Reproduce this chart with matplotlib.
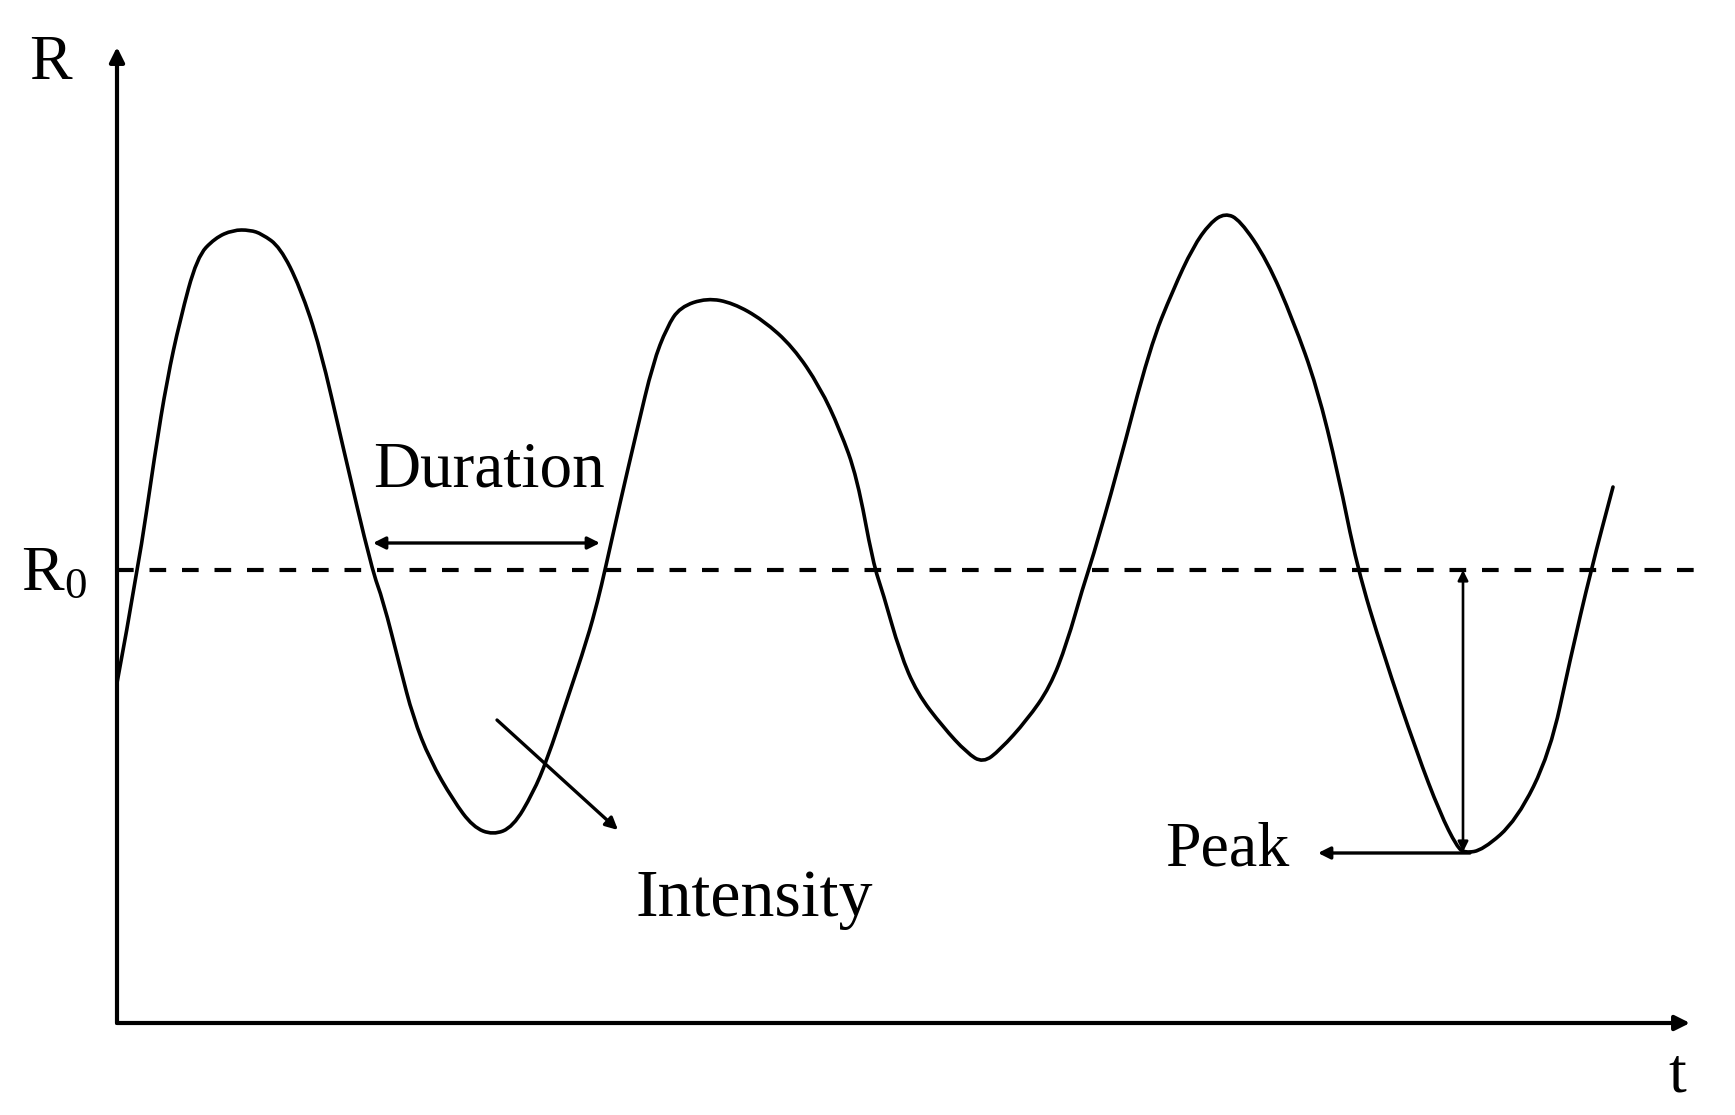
import matplotlib
matplotlib.use('Agg')
import matplotlib.pyplot as plt
from matplotlib.path import Path
from matplotlib.patches import PathPatch

plt.rcParams['font.family'] = ['Liberation Serif', 'DejaVu Serif']
plt.rcParams['mathtext.fontset'] = 'custom'
plt.rcParams['mathtext.rm'] = 'Liberation Serif'
plt.rcParams['mathtext.it'] = 'Liberation Serif'

# schematic signal (arbitrary units)
t = [0.0, 2.1, 3.8, 5.0, 6.3, 8.0, 9.8, 11.6, 13.3, 14.5, 16.3, 18.3, 20.3, 22.6,
     25.5, 26.6, 28.3, 29.6, 31.3, 33.6, 35.6, 37.6, 39.6, 41.6, 43.0, 45.0, 47.0,
     48.1, 48.8, 50.3, 52.0, 53.6, 55.0, 56.3, 59.0, 61.6, 64.6, 67.6, 70.3, 72.3,
     74.0, 75.6, 76.6, 78.3, 80.0, 82.6, 85.0, 86.6, 88.3, 91.0, 93.3, 95.0, 96.6,
     97.5, 100.0, 103.3, 105.6, 107.6, 109.3, 110.8, 112.3, 115.0, 117.6, 120.0,
     122.1, 124.0, 126.6, 130.0, 132.3, 134.0, 134.8, 136.6, 140.0, 143.3, 145.3,
     147.4, 149.6]
R = [34.0, 45.3, 57.0, 64.3, 70.3, 76.6, 78.5, 79.3, 79.3, 78.9, 77.6, 73.6, 67.6, 57.6,
     45.3, 42.3, 35.6, 30.6, 26.3, 22.3, 19.6, 18.8, 19.6, 23.0, 26.3, 32.3, 38.3,
     42.3, 45.3, 52.0, 59.3, 66.0, 69.6, 71.6, 72.5, 72.0, 70.3, 67.6, 63.6, 59.3,
     54.6, 46.0, 43.0, 37.0, 33.0, 29.6, 27.0, 26.0, 27.3, 30.3, 33.6, 38.0, 43.6,
     46.3, 55.0, 67.6, 73.3, 77.6, 80.0, 81.0, 80.3, 76.3, 70.3, 63.6,
     55.0, 45.6, 37.0, 27.0, 21.0, 17.6, 17.0, 17.3, 20.3, 27.0, 36.3,
     45.3, 53.6]
R0 = 45.3

# annotation anchors
duration_span = (25.6, 48.3, 48.0)
intensity_from = (38.0, 30.3)
intensity_to = (50.1, 19.3)
peak_t = 134.6
peak_R = 17.1
peak_arrow_end = 120.1


def smooth_path(xs, ys):
    # quadratic bezier through the midpoints, read points act as control points
    verts = [(xs[0], ys[0])]
    codes = [Path.MOVETO]
    for i in range(1, len(xs) - 1):
        verts.append((xs[i], ys[i]))
        verts.append(((xs[i] + xs[i + 1]) / 2, (ys[i] + ys[i + 1]) / 2))
        codes += [Path.CURVE3, Path.CURVE3]
    verts.append((xs[-1], ys[-1]))
    codes.append(Path.LINETO)
    return Path(verts, codes)


fig = plt.figure(figsize=(17.35, 11.15), dpi=100)
ax = fig.add_axes([117 / 1735, 92 / 1115, 1600 / 1735, 1000 / 1115])
ax.set_xlim(0, 160)
ax.set_ylim(0, 100)
ax.axis('off')

ak = dict(arrowstyle='-|>', color='k', lw=3.0, mutation_scale=22, shrinkA=0, shrinkB=0)
ax.annotate('', xy=(0, 97.6), xytext=(0, 0), arrowprops=ak, annotation_clip=False)
ax.annotate('', xy=(157.3, 0), xytext=(0, 0), arrowprops=ak, annotation_clip=False)

ax.plot([0, 158], [R0, R0], color='k', lw=3.0, linestyle=(0, (4.0, 3.8)), clip_on=False)
ax.add_patch(PathPatch(smooth_path(t, R), fill=False, edgecolor='k', lw=2.6,
                       joinstyle='round', capstyle='round', clip_on=False))

small = dict(color='k', lw=2.4, mutation_scale=18, shrinkA=0, shrinkB=0)
ax.annotate('', xy=(duration_span[1], duration_span[2]), xytext=(duration_span[0], duration_span[2]),
            arrowprops=dict(arrowstyle='<|-|>', **small))
ax.annotate('', xy=intensity_to, xytext=intensity_from,
            arrowprops=dict(arrowstyle='-|>', **small))
ax.annotate('', xy=(peak_t, peak_R), xytext=(peak_t, R0),
            arrowprops=dict(arrowstyle='<|-|>', color='k', lw=1.9, mutation_scale=15, shrinkA=0, shrinkB=0))
ax.annotate('', xy=(peak_arrow_end, 17.0), xytext=(135.3, 17.0),
            arrowprops=dict(arrowstyle='-|>', **small))

fs = 46
ax.text(37.2, 55.2, 'Duration', fontsize=fs + 1, ha='center', va='center')
ax.text(51.9, 10.7, 'Intensity', fontsize=fs + 3, ha='left', va='baseline')
ax.text(117.2, 15.8, 'Peak', fontsize=fs, ha='right', va='baseline')
ax.text(-6.7, 95.9, 'R', fontsize=fs, ha='center', va='center')
ax.text(156.0, -5.4, 't', fontsize=fs, ha='center', va='center')
ax.text(-6.3, 44.8, r'$\mathrm{R}_0$', fontsize=fs, ha='center', va='center')

fig.savefig('out.png', dpi=100, facecolor='white')
